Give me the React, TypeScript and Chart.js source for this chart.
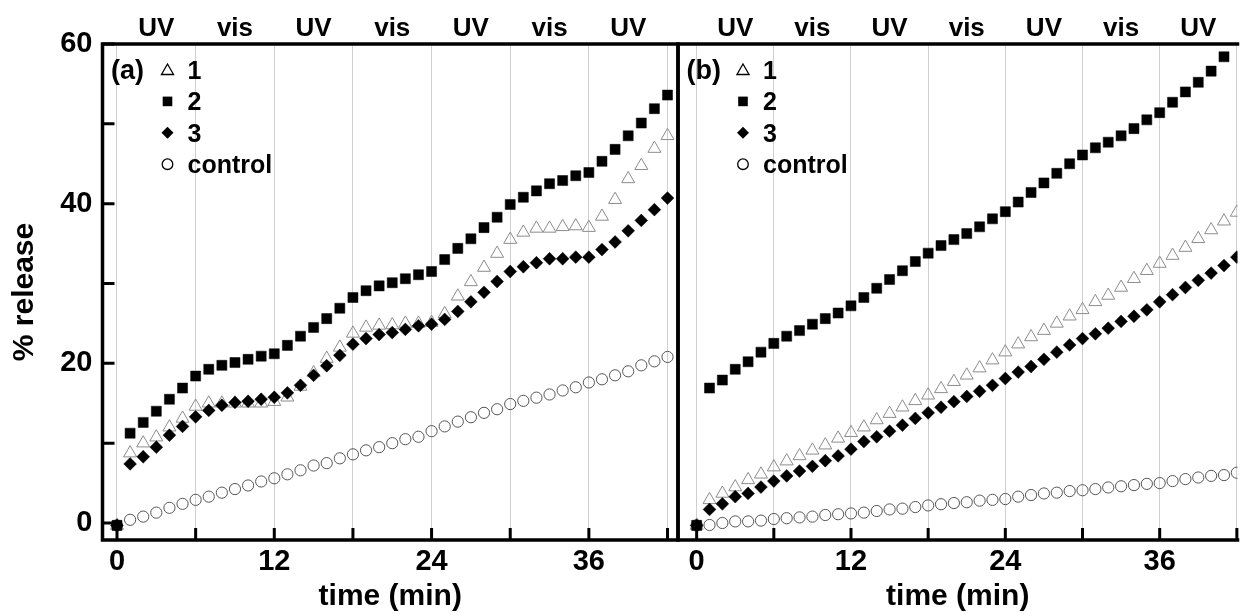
import React, { useEffect, useRef } from 'react';
import { Chart, registerables } from 'chart.js';

Chart.register(...registerables);

const FONT = '"Liberation Sans", Arial, Helvetica, sans-serif';

const minutes = [0, 1, 2, 3, 4, 5, 6, 7, 8, 9, 10, 11, 12, 13, 14, 15, 16, 17, 18, 19, 20, 21, 22, 23, 24, 25, 26, 27, 28, 29, 30, 31, 32, 33, 34, 35, 36, 37, 38, 39, 40, 41, 42];
const xTickValues = [0, 6, 12, 18, 24, 30, 36, 42];
const xLabelValues = [0, 12, 24, 36];
const yTickValues = [0, 10, 20, 30, 40, 50, 60];
const yLabelValues = [0, 20, 40, 60];
const lightLabels = ['UV', 'vis', 'UV', 'vis', 'UV', 'vis', 'UV'];
const lightCenters = [3, 9, 15, 21, 27, 33, 39];
const seriesNames = ['1', '2', '3', 'control'];

// panel (a)
const a1 = [-0.3, 8.75, 10, 10.75, 12, 13.1, 14.6, 15, 15, 15, 15, 15, 15.2, 15.75, 17.1, 18.8, 20.6, 22, 23.75, 24.5, 24.75, 24.8, 25, 25, 25.1, 26.2, 28.4, 30.2, 32, 33.75, 35.5, 36.4, 36.9, 36.9, 37.1, 37.2, 37, 38.4, 40.5, 43.1, 44.75, 46.9, 48.5];
const a2 = [-0.3, 11.25, 12.6, 14, 15.5, 16.9, 18.4, 19.25, 19.75, 20.1, 20.5, 20.9, 21.2, 22.25, 23.4, 24.5, 25.6, 26.9, 28.25, 29.1, 29.7, 30.1, 30.6, 31.1, 31.5, 33, 34.4, 35.6, 37, 38.3, 39.9, 40.8, 41.6, 42.5, 42.9, 43.5, 43.9, 45.3, 46.8, 48.5, 50.1, 51.9, 53.6];
const a3 = [-0.3, 7.4, 8.3, 9.5, 11, 12.1, 13.3, 14.1, 14.75, 15.1, 15.25, 15.5, 15.75, 16.3, 17.25, 18.5, 19.7, 21, 22.4, 23.1, 23.6, 23.85, 24.25, 24.7, 24.9, 25.5, 26.5, 27.7, 28.9, 30.25, 31.5, 32.1, 32.6, 33.1, 33.1, 33.3, 33.3, 34.25, 35.2, 36.6, 37.9, 39.25, 40.7];
const aControl = [-0.3, 0.4, 0.8, 1.3, 1.9, 2.4, 2.9, 3.3, 3.8, 4.25, 4.7, 5.2, 5.6, 6.1, 6.6, 7.2, 7.5, 8.1, 8.6, 9.1, 9.5, 10, 10.5, 10.8, 11.5, 12.1, 12.7, 13.25, 13.8, 14.25, 14.9, 15.3, 15.7, 16.1, 16.6, 17, 17.6, 18, 18.5, 19, 19.75, 20.25, 20.8];

// panel (b)
const b1 = [-0.3, 2.9, 3.7, 4.5, 5.4, 6.1, 7, 7.75, 8.4, 9.1, 9.75, 10.6, 11.3, 12, 12.9, 13.7, 14.5, 15.3, 16, 16.8, 17.7, 18.5, 19.4, 20.4, 21.4, 22.4, 23.3, 24.1, 25, 25.9, 26.7, 27.7, 28.5, 29.5, 30.6, 31.6, 32.5, 33.5, 34.5, 35.6, 36.7, 37.8, 38.9];
const b2 = [-0.3, 16.9, 17.9, 19.25, 20.2, 21.4, 22.5, 23.4, 24.1, 24.9, 25.6, 26.3, 27.2, 28.25, 29.4, 30.5, 31.6, 32.75, 33.8, 34.75, 35.5, 36.25, 37.1, 38.1, 39, 40.2, 41.4, 42.6, 43.8, 45, 46.1, 47, 47.7, 48.5, 49.4, 50.5, 51.4, 52.7, 54, 55.2, 56.6, 58.4, null];
const b3 = [-0.3, 1.7, 2.4, 3.3, 3.7, 4.5, 5.25, 5.9, 6.5, 7.1, 7.8, 8.4, 9.25, 10.2, 10.8, 11.5, 12.25, 13.1, 13.8, 14.5, 15.2, 15.85, 16.5, 17.25, 18.1, 18.9, 19.6, 20.5, 21.4, 22.3, 23.1, 23.7, 24.4, 25.25, 25.9, 26.7, 27.7, 28.6, 29.5, 30.4, 31.3, 32.25, 33.3];
const bControl = [-0.3, -0.25, 0, 0.2, 0.2, 0.3, 0.5, 0.6, 0.7, 0.8, 1.0, 1.1, 1.2, 1.3, 1.5, 1.7, 1.8, 2.0, 2.2, 2.35, 2.5, 2.6, 2.8, 2.9, 3.0, 3.3, 3.5, 3.7, 3.8, 4.0, 4.1, 4.25, 4.45, 4.6, 4.75, 4.9, 5.0, 5.25, 5.5, 5.7, 5.9, 6.0, 6.3];

const TRI_COLOR = '#8c8c8c';
const CIRC_COLOR = '#555555';

function drawTriangle(ctx: CanvasRenderingContext2D, x: number, y: number, r: number) {
  ctx.beginPath();
  ctx.moveTo(x, y - r);
  ctx.lineTo(x + r * Math.sin(Math.PI / 3), y + r / 2);
  ctx.lineTo(x - r * Math.sin(Math.PI / 3), y + r / 2);
  ctx.closePath();
  ctx.stroke();
}

const decorPlugin = {
  id: 'decor',
  afterDatasetsDraw(chart: any, _args: any, opts: any) {
    const { ctx, chartArea: ca, scales } = chart;
    const xs = scales.x;
    const ys = scales.y;
    ctx.save();
    // tick marks (inward)
    ctx.strokeStyle = '#000';
    ctx.lineWidth = 3;
    ctx.beginPath();
    for (const v of xTickValues) {
      const px = xs.getPixelForValue(v);
      ctx.moveTo(px, ca.bottom);
      ctx.lineTo(px, ca.bottom - 12);
    }
    if (opts.yTicks) {
      for (const v of yTickValues) {
        const py = ys.getPixelForValue(v);
        ctx.moveTo(ca.left, py);
        ctx.lineTo(ca.left + 12, py);
      }
    }
    ctx.stroke();
    // frame
    ctx.lineWidth = 3.5;
    const h = 1.75;
    ctx.beginPath();
    ctx.moveTo(ca.left - h, ca.top);
    ctx.lineTo(ca.right + h, ca.top);
    ctx.moveTo(ca.left - h, ca.bottom);
    ctx.lineTo(ca.right + h, ca.bottom);
    ctx.moveTo(ca.left, ca.top);
    ctx.lineTo(ca.left, ca.bottom);
    if (opts.rightBorder) {
      ctx.moveTo(ca.right, ca.top);
      ctx.lineTo(ca.right, ca.bottom);
    }
    ctx.stroke();
    // UV / vis labels
    ctx.fillStyle = '#000';
    ctx.font = `bold 26px ${FONT}`;
    ctx.textAlign = 'center';
    ctx.textBaseline = 'alphabetic';
    lightLabels.forEach((lab, i) => {
      ctx.fillText(lab, xs.getPixelForValue(lightCenters[i]), 36);
    });
    // panel label
    ctx.textAlign = 'left';
    ctx.font = `bold 27px ${FONT}`;
    ctx.fillText(opts.panel, ca.left + 8.5, 79);
    // legend
    ctx.font = `bold 25px ${FONT}`;
    const mx = ca.left + 65;
    const tx = ca.left + 85;
    seriesNames.forEach((name, i) => {
      const cy = 70 + i * 31.4;
      ctx.strokeStyle = '#000';
      ctx.fillStyle = '#000';
      ctx.lineWidth = 1.3;
      if (i === 0) {
        drawTriangle(ctx, mx, cy + 1, 7);
      } else if (i === 1) {
        ctx.fillRect(mx - 4.8, cy - 4.8, 9.6, 9.6);
      } else if (i === 2) {
        ctx.beginPath();
        ctx.moveTo(mx - 6, cy);
        ctx.lineTo(mx, cy - 6);
        ctx.lineTo(mx + 6, cy);
        ctx.lineTo(mx, cy + 6);
        ctx.closePath();
        ctx.fill();
      } else {
        ctx.beginPath();
        ctx.arc(mx, cy, 5.3, 0, Math.PI * 2);
        ctx.stroke();
      }
      ctx.fillStyle = '#000';
      ctx.fillText(name, tx, cy + 9);
    });
    ctx.restore();
  },
};

function makeDatasets(s1: (number | null)[], s2: (number | null)[], s3: (number | null)[], sc: (number | null)[]) {
  const pts = (arr: (number | null)[]) => minutes.map((m, i) => ({ x: m, y: arr[i] }));
  return [
    {
      label: seriesNames[2],
      data: pts(s3),
      order: 0,
      pointStyle: 'rectRot',
      pointRadius: 6.4,
      pointBackgroundColor: '#000',
      pointBorderColor: '#000',
      pointBorderWidth: 0.5,
    },
    {
      label: seriesNames[1],
      data: pts(s2),
      order: 1,
      pointStyle: 'rect',
      pointRadius: 7.1,
      pointBackgroundColor: '#000',
      pointBorderColor: '#000',
      pointBorderWidth: 0.5,
    },
    {
      label: seriesNames[0],
      data: pts(s1),
      order: 2,
      pointStyle: 'triangle',
      pointRadius: 7.5,
      pointBackgroundColor: 'rgba(255,255,255,0)',
      pointBorderColor: TRI_COLOR,
      pointBorderWidth: 1,
    },
    {
      label: seriesNames[3],
      data: pts(sc),
      order: 3,
      pointStyle: 'circle',
      pointRadius: 5.6,
      pointBackgroundColor: 'rgba(255,255,255,0)',
      pointBorderColor: CIRC_COLOR,
      pointBorderWidth: 1,
    },
  ];
}

function buildConfig(panel: 'a' | 'b'): any {
  const isA = panel === 'a';
  const datasets = isA ? makeDatasets(a1, a2, a3, aControl) : makeDatasets(b1, b2, b3, bControl);
  return {
    type: 'scatter',
    data: { datasets },
    plugins: [decorPlugin],
    options: {
      responsive: false,
      animation: false,
      devicePixelRatio: 1,
      events: [],
      layout: { padding: { left: 0, right: isA ? 12 : 0, top: 44, bottom: 0 } },
      plugins: {
        legend: { display: false },
        tooltip: { enabled: false },
        decor: { panel: isA ? '(a)' : '(b)', yTicks: isA, rightBorder: isA },
      },
      scales: {
        x: {
          type: 'linear',
          min: isA ? -1.106 : -1.45,
          max: isA ? 42.8 : 42.05,
          afterBuildTicks: (s: any) => {
            s.ticks = xTickValues.map((v) => ({ value: v }));
          },
          afterFit: (s: any) => {
            s.height = 74;
          },
          grid: { display: true, color: '#cfcfcf', lineWidth: 1, drawTicks: false },
          border: { display: false },
          ticks: {
            autoSkip: false,
            maxRotation: 0,
            padding: 5,
            color: '#000',
            font: { family: FONT, size: 29, weight: 'bold', lineHeight: 1.2 },
            callback: (v: number) => (xLabelValues.includes(v) ? String(v) : ''),
          },
          title: {
            display: true,
            text: 'time (min)',
            color: '#000',
            font: { family: FONT, size: 30, weight: 'bold', lineHeight: 1.0 },
            padding: { top: 0, bottom: 2 },
          },
        },
        y: {
          type: 'linear',
          min: -2.13,
          max: 60,
          afterBuildTicks: (s: any) => {
            s.ticks = yTickValues.map((v) => ({ value: v }));
          },
          afterFit: (s: any) => {
            s.width = isA ? 102.5 : 18;
          },
          grid: { display: false, drawTicks: false },
          border: { display: false },
          ticks: {
            display: isA,
            autoSkip: false,
            padding: 10,
            color: '#000',
            font: { family: FONT, size: 29, weight: 'bold', lineHeight: 1.2 },
            callback: (v: number) => (yLabelValues.includes(v) ? String(v) : ''),
          },
          title: {
            display: isA,
            text: '% release',
            color: '#000',
            font: { family: FONT, size: 30, weight: 'bold', lineHeight: 1.2 },
            padding: { top: 7, bottom: 0 },
          },
        },
      },
    },
  };
}

export default function App() {
  const refA = useRef<HTMLCanvasElement>(null);
  const refB = useRef<HTMLCanvasElement>(null);

  useEffect(() => {
    document.body.style.margin = '0';
    const ca = new Chart(refA.current as HTMLCanvasElement, buildConfig('a'));
    const cb = new Chart(refB.current as HTMLCanvasElement, buildConfig('b'));
    return () => {
      ca.destroy();
      cb.destroy();
    };
  }, []);

  return (
    <div style={{ position: 'absolute', left: 0, top: 0, width: 1246, height: 614, background: '#fff', overflow: 'hidden' }}>
      <canvas ref={refA} width={690} height={614} style={{ position: 'absolute', left: 0, top: 0, width: 690, height: 614 }} />
      <canvas ref={refB} width={586} height={614} style={{ position: 'absolute', left: 660, top: 0, width: 586, height: 614 }} />
    </div>
  );
}
